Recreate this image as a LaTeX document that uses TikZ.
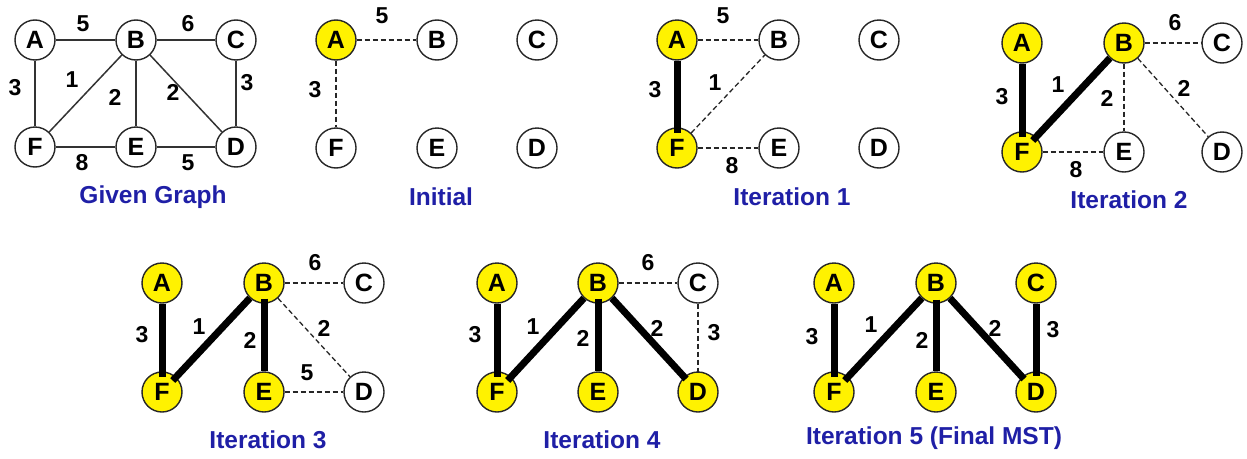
\documentclass[tikz,border=0pt]{standalone}
\usepackage{fontspec}
\setmainfont{Liberation Sans}
\definecolor{titleblue}{rgb}{0.12,0.12,0.65}
\definecolor{rimgray}{gray}{0.15}
\newcommand\vfnt{\fontsize{25}{27}\selectfont\bfseries}
\newcommand\wfnt{\fontsize{23}{25}\selectfont\bfseries}
\newcommand\tfnt{\fontsize{24.5}{26}\selectfont\bfseries}
\tikzset{
  vtx/.style={circle, draw=rimgray, line width=1.4pt, fill=white, minimum size=40pt, inner sep=0pt, font=\vfnt},
  vin/.style={vtx, fill=yellow},
  solidedge/.style={draw=black!80, line width=1.5pt},
  cand/.style={draw=black!85, line width=1.3pt, dash pattern=on 5pt off 3pt},
  tree/.style={draw=black, line width=7pt},
  wt/.style={font=\wfnt, inner sep=0pt},
  ttl/.style={font=\tfnt, text=titleblue, inner sep=0pt}
}
\begin{document}
\begin{tikzpicture}[x=1pt,y=-1pt]
\useasboundingbox (0,0) rectangle (1247,458);

% ---------- Given graph ----------
\node[vtx] (gA) at (35,40) {A};
\node[vtx] (gB) at (136,40) {B};
\node[vtx] (gC) at (236,40) {C};
\node[vtx] (gF) at (35,147) {F};
\node[vtx] (gE) at (136,147) {E};
\node[vtx] (gD) at (236,147) {D};
\draw[solidedge] (gA) -- (gB);
\draw[solidedge] (gB) -- (gC);
\draw[solidedge] (gA) -- (gF);
\draw[solidedge] (gF) -- (gB);
\draw[solidedge] (gB) -- (gE);
\draw[solidedge] (gB) -- (gD);
\draw[solidedge] (gC) -- (gD);
\draw[solidedge] (gF) -- (gE);
\draw[solidedge] (gE) -- (gD);
\node[wt] (gw1) at (83,24) {5};
\node[wt] (gw2) at (188,24) {6};
\node[wt] (gw3) at (15,88) {3};
\node[wt] (gw4) at (72,80) {1};
\node[wt] (gw5) at (115,97) {2};
\node[wt] (gw6) at (173,92) {2};
\node[wt] (gw7) at (247,83) {3};
\node[wt] (gw8) at (82,163) {8};
\node[wt] (gw9) at (188,163) {5};
\node[ttl] (gt) at (153,197) {Given Graph};

% ---------- Initial ----------
\node[vin] (iA) at (336,40) {A};
\node[vtx] (iB) at (437,40) {B};
\node[vtx] (iC) at (537,40) {C};
\node[vtx] (iF) at (336,148) {F};
\node[vtx] (iE) at (437,148) {E};
\node[vtx] (iD) at (537,148) {D};
\draw[cand] (iA) -- (iB);
\draw[cand] (iA) -- (iF);
\node[wt] (iw1) at (382,16) {5};
\node[wt] (iw2) at (315,90) {3};
\node[ttl] (it) at (441,197) {Initial};

% ---------- Iteration 1 ----------
\node[vin] (aA) at (677,40) {A};
\node[vtx] (aB) at (779,40) {B};
\node[vtx] (aC) at (879,40) {C};
\node[vin] (aF) at (677,148) {F};
\node[vtx] (aE) at (779,148) {E};
\node[vtx] (aD) at (879,148) {D};
\draw[cand] (aA) -- (aB);
\draw[cand] (aF) -- (aB);
\draw[cand] (aF) -- (aE);
\draw[tree, shorten >=-6pt] (aA) -- (aF);
\node[wt] (aw1) at (723,16) {5};
\node[wt] (aw2) at (655,90) {3};
\node[wt] (aw3) at (715,83) {1};
\node[wt] (aw4) at (732,166) {8};
\node[ttl] (at) at (792,197) {Iteration 1};

% ---------- Iteration 2 ----------
\node[vin] (bA) at (1022,43) {A};
\node[vin] (bB) at (1124,43) {B};
\node[vtx] (bC) at (1222,43) {C};
\node[vin] (bF) at (1022,152) {F};
\node[vtx] (bE) at (1124,152) {E};
\node[vtx] (bD) at (1222,152) {D};
\draw[cand] (bB) -- (bC);
\draw[cand] (bB) -- (bE);
\draw[cand] (bB) -- (bD);
\draw[cand] (bF) -- (bE);
\draw[tree, shorten >=-6pt] (bA) -- (bF);
\draw[tree, shorten <=-5pt] (bF) -- (bB);
\node[wt] (bw1) at (1175,23) {6};
\node[wt] (bw2) at (1002,97) {3};
\node[wt] (bw3) at (1058,85) {1};
\node[wt] (bw4) at (1107,98) {2};
\node[wt] (bw5) at (1184,88) {2};
\node[wt] (bw6) at (1076,170) {8};
\node[ttl] (bt) at (1129,200) {Iteration 2};

% ---------- Iteration 3 ----------
\node[vin] (cA) at (162,283) {A};
\node[vin] (cB) at (264,283) {B};
\node[vtx] (cC) at (364,283) {C};
\node[vin] (cF) at (162,392) {F};
\node[vin] (cE) at (264,392) {E};
\node[vtx] (cD) at (364,392) {D};
\draw[cand] (cB) -- (cC);
\draw[cand] (cB) -- (cD);
\draw[cand] (cE) -- (cD);
\draw[tree, shorten >=-6pt] (cA) -- (cF);
\draw[tree, shorten <=-5pt] (cF) -- (cB);
\draw[tree, shorten <=-5pt] (cB) -- (cE);
\node[wt] (cw1) at (315,263) {6};
\node[wt] (cw2) at (142,335) {3};
\node[wt] (cw3) at (199,327) {1};
\node[wt] (cw4) at (250,340) {2};
\node[wt] (cw5) at (324,328) {2};
\node[wt] (cw6) at (307,373) {5};
\node[ttl] (ct) at (268,440) {Iteration 3};

% ---------- Iteration 4 ----------
\node[vin] (dA) at (497,283) {A};
\node[vin] (dB) at (598,283) {B};
\node[vtx] (dC) at (698,283) {C};
\node[vin] (dF) at (497,392) {F};
\node[vin] (dE) at (598,392) {E};
\node[vin] (dD) at (698,392) {D};
\draw[cand] (dB) -- (dC);
\draw[cand, shorten >=-4pt] (dC) -- (dD);
\draw[tree, shorten >=-6pt] (dA) -- (dF);
\draw[tree, shorten <=-5pt] (dF) -- (dB);
\draw[tree, shorten <=-5pt] (dB) -- (dE);
\draw[tree, shorten >=-3pt] (dB) -- (dD);
\node[wt] (dw1) at (648,263) {6};
\node[wt] (dw2) at (475,335) {3};
\node[wt] (dw3) at (533,327) {1};
\node[wt] (dw4) at (583,338) {2};
\node[wt] (dw5) at (657,328) {2};
\node[wt] (dw6) at (714,333) {3};
\node[ttl] (dt) at (602,440) {Iteration 4};

% ---------- Iteration 5 ----------
\node[vin] (eA) at (834,283) {A};
\node[vin] (eB) at (936,283) {B};
\node[vin] (eC) at (1036,283) {C};
\node[vin] (eF) at (834,392) {F};
\node[vin] (eE) at (936,392) {E};
\node[vin] (eD) at (1036,392) {D};
\draw[tree, shorten >=-6pt] (eA) -- (eF);
\draw[tree, shorten <=-5pt] (eF) -- (eB);
\draw[tree, shorten <=-4pt] (eB) -- (eE);
\draw[tree, shorten >=-3pt] (eB) -- (eD);
\draw[tree, shorten >=-5pt] (eC) -- (eD);
\node[wt] (ew1) at (812,337) {3};
\node[wt] (ew2) at (871,325) {1};
\node[wt] (ew3) at (922,340) {2};
\node[wt] (ew4) at (995,328) {2};
\node[wt] (ew5) at (1053,330) {3};
\node[ttl] (et) at (934,438) {Iteration 5 (Final MST)};
\end{tikzpicture}
\end{document}
